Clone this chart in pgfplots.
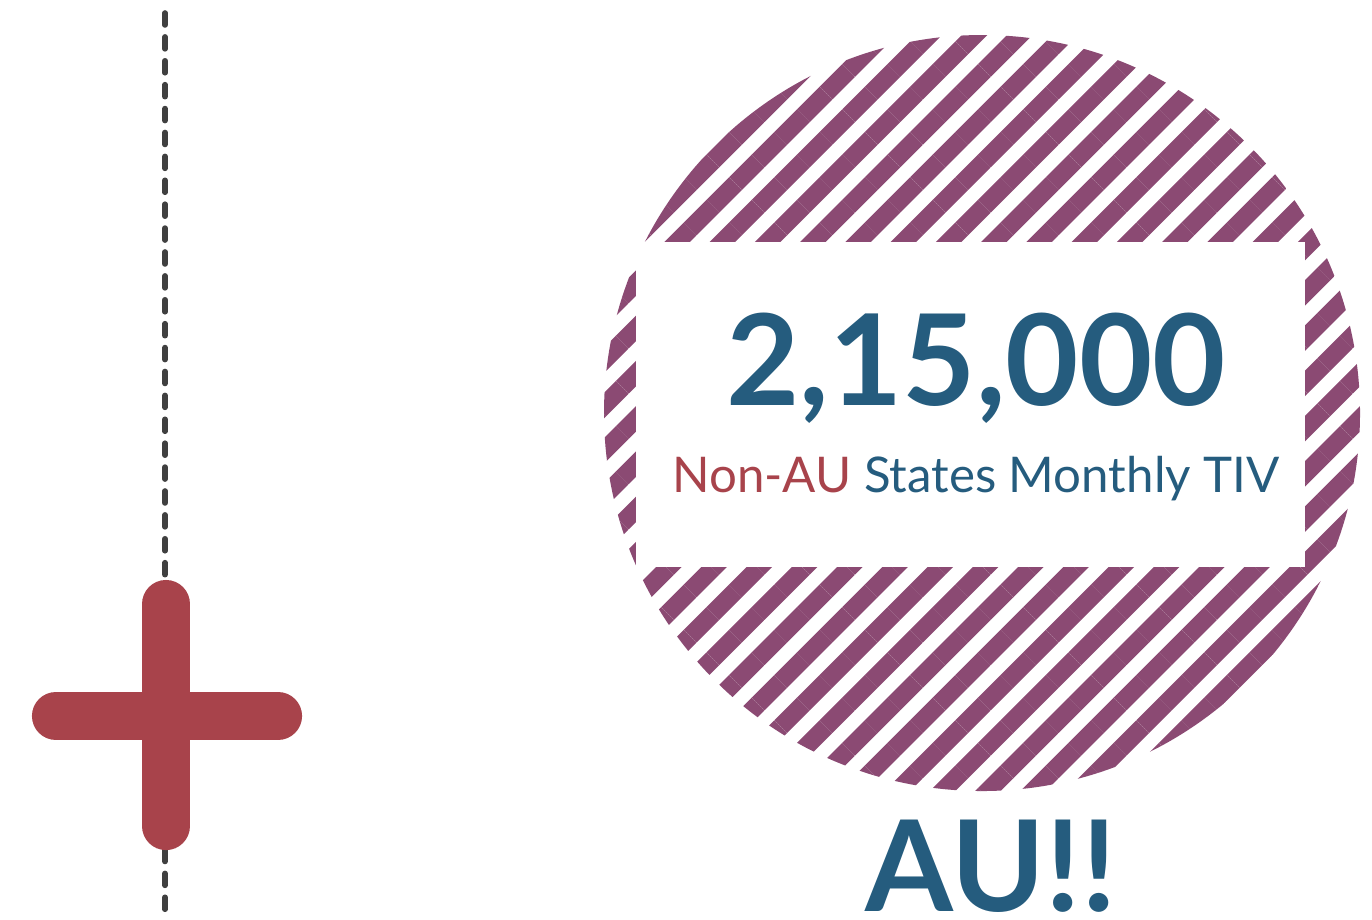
\documentclass[border=0pt]{standalone}
\usepackage{pgfplots}
\pgfplotsset{compat=1.18}
\usepackage{fontspec}
\setmainfont{Lato}
\usetikzlibrary{patterns.meta}
\definecolor{auBlue}{RGB}{37,92,126}
\definecolor{auRed}{RGB}{168,67,75}
\definecolor{auPurple}{RGB}{139,74,115}
\definecolor{dashGray}{RGB}{64,64,64}
\begin{document}
\begin{tikzpicture}
\begin{axis}[scale only axis, width=13.72cm, height=9.19cm,
  xmin=0, xmax=1372, ymin=0, ymax=919, y dir=reverse,
  hide axis, clip=false]
\path (axis cs:0,0) rectangle (axis cs:1372,919);
% dashed vertical guide
\addplot[dashGray, line width=1.6pt, line cap=round, dash pattern=on 3.4pt off 3.4pt] coordinates {(165,13) (165,914)};
% cross
\addplot[auRed, line width=13.7pt, line cap=round] coordinates {(166,604) (166,826)};
\addplot[auRed, line width=13.7pt, line cap=round] coordinates {(56,716) (278,716)};
% hatched circle
\fill[pattern={Lines[angle=45, distance=3.2mm, line width=1.8mm]}, pattern color=auPurple] (axis cs:982,413) circle[radius=3.78cm];
% white panel
\fill[white] (axis cs:636,242) rectangle (axis cs:1305,567);
% texts
\node[anchor=base, text=auBlue, font=\fontsize{36}{40}\selectfont\bfseries, inner sep=0pt] at (axis cs:976,405) {2,15,000};
\node[anchor=base, text=auBlue, font=\fontsize{14}{17}\selectfont, inner sep=0pt] at (axis cs:976,492) {\textcolor{auRed}{Non-AU} States Monthly TIV};
\node[anchor=base, text=auBlue, font=\fontsize{36}{40}\selectfont\bfseries, inner sep=0pt] at (axis cs:991,911) {AU!!};
\end{axis}
\end{tikzpicture}
\end{document}
